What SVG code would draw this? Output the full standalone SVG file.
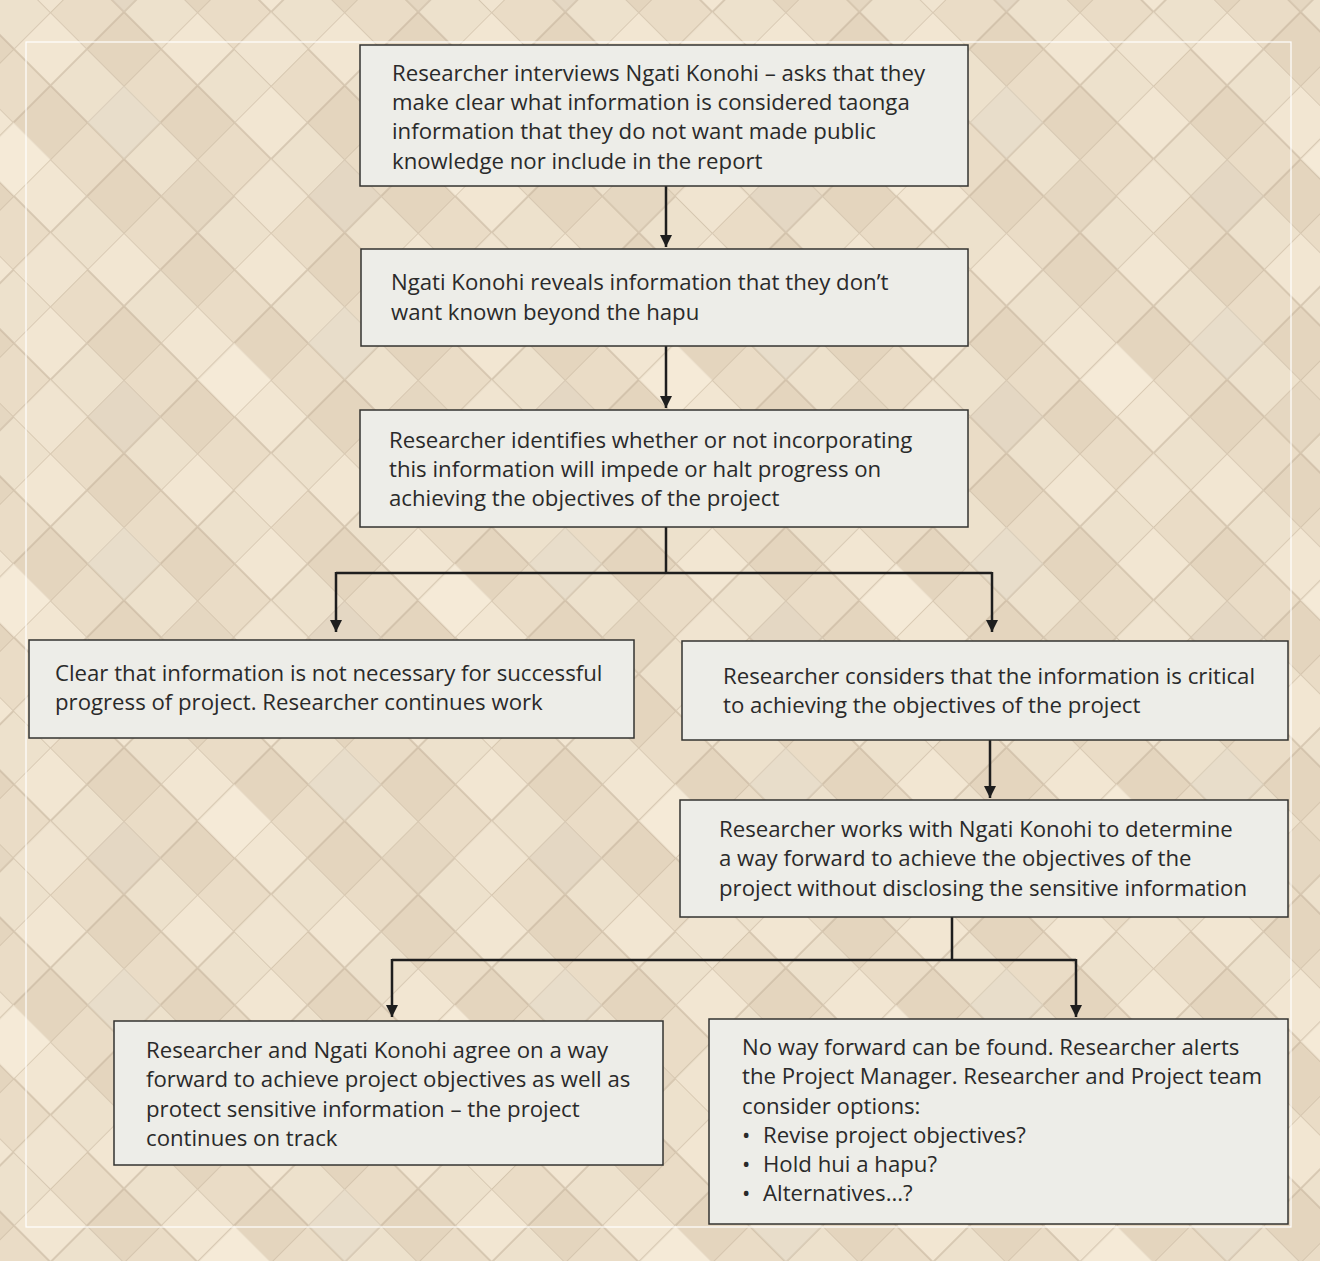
<svg xmlns="http://www.w3.org/2000/svg" width="1320" height="1261" viewBox="0 0 1320 1261">
<defs>
<pattern id="weave" width="104" height="104" patternUnits="userSpaceOnUse" patternTransform="rotate(45 660 630)">
<rect width="104" height="104" fill="#eadcc6"/>
<rect x="0" y="0" width="52" height="52" fill="#f2e6d2"/>
<rect x="52" y="52" width="52" height="52" fill="#e4d5be"/>
<rect x="52" y="0" width="52" height="52" fill="#ede1cc"/>
<path d="M0 0H104M0 52H104M0 0V104M52 0V104" stroke="#bfae96" stroke-width="2" fill="none" opacity="0.5"/>
</pattern>
<pattern id="weave2" width="312" height="312" patternUnits="userSpaceOnUse" patternTransform="rotate(45 660 630)">
<rect x="0" y="0" width="52" height="52" fill="#d8c8b0" opacity="0.5"/>
<rect x="156" y="104" width="52" height="52" fill="#faf0de" opacity="0.6"/>
<rect x="104" y="208" width="52" height="52" fill="#d6c7b3" opacity="0.5"/>
<rect x="260" y="156" width="52" height="52" fill="#f8eedc" opacity="0.6"/>
<rect x="208" y="0" width="52" height="52" fill="#ddd3c2" opacity="0.5"/>
<rect x="52" y="260" width="52" height="52" fill="#f8eedc" opacity="0.6"/>
</pattern>
<marker id="arr" viewBox="0 0 10 10" refX="10" refY="5" markerWidth="5" markerHeight="5" markerUnits="strokeWidth" orient="auto">
<path d="M0 0L10 5L0 10Z" fill="#1e1e1e"/>
</marker>
<style>
.box{fill:#edede8;stroke:#333330;stroke-width:1.5}
.t{font-family:"Open Sans","Noto Sans","Liberation Sans",sans-serif;font-size:22.2px;fill:#2a2a2a}
.c{fill:none;stroke:#1e1e1e;stroke-width:2.5}
</style>
</defs>
<rect width="1320" height="1261" fill="url(#weave)"/>
<rect width="1320" height="1261" fill="url(#weave2)"/>
<rect x="26" y="42" width="1265" height="1185" fill="none" stroke="#ffffff" stroke-width="1.2"/>
<g id="connectors">
<path class="c" d="M666 186V247" marker-end="url(#arr)"/>
<path class="c" d="M666 346V408" marker-end="url(#arr)"/>
<path class="c" d="M666 527V573M336 573H992M336 572V632" marker-end="url(#arr)"/>
<path class="c" d="M992 572V632" marker-end="url(#arr)"/>
<path class="c" d="M990 740V798" marker-end="url(#arr)"/>
<path class="c" d="M952 917V960M392 960H1076M392 959V1017" marker-end="url(#arr)"/>
<path class="c" d="M1076 959V1017" marker-end="url(#arr)"/>
</g>
<g id="n1">
<rect class="box" x="360" y="45" width="608" height="141"/>
<text class="t" x="392" y="81">Researcher interviews Ngati Konohi – asks that they</text>
<text class="t" x="392" y="110">make clear what information is considered taonga</text>
<text class="t" x="392" y="139">information that they do not want made public</text>
<text class="t" x="392" y="169">knowledge nor include in the report</text>
</g>
<g id="n2">
<rect class="box" x="361" y="249" width="607" height="97"/>
<text class="t" x="391" y="290">Ngati Konohi reveals information that they don’t</text>
<text class="t" x="391" y="320">want known beyond the hapu</text>
</g>
<g id="n3">
<rect class="box" x="360" y="410" width="608" height="117"/>
<text class="t" x="389" y="448">Researcher identifies whether or not incorporating</text>
<text class="t" x="389" y="477">this information will impede or halt progress on</text>
<text class="t" x="389" y="506">achieving the objectives of the project</text>
</g>
<g id="n4">
<rect class="box" x="29" y="640" width="605" height="98"/>
<text class="t" x="55" y="681">Clear that information is not necessary for successful</text>
<text class="t" x="55" y="710">progress of project. Researcher continues work</text>
</g>
<g id="n5">
<rect class="box" x="682" y="641" width="606" height="99"/>
<text class="t" x="723" y="684">Researcher considers that the information is critical</text>
<text class="t" x="723" y="713">to achieving the objectives of the project</text>
</g>
<g id="n6">
<rect class="box" x="680" y="800" width="608" height="117"/>
<text class="t" x="719" y="837">Researcher works with Ngati Konohi to determine</text>
<text class="t" x="719" y="866">a way forward to achieve the objectives of the</text>
<text class="t" x="719" y="896">project without disclosing the sensitive information</text>
</g>
<g id="n7">
<rect class="box" x="114" y="1021" width="549" height="144"/>
<text class="t" x="146" y="1058">Researcher and Ngati Konohi agree on a way</text>
<text class="t" x="146" y="1087">forward to achieve project objectives as well as</text>
<text class="t" x="146" y="1117">protect sensitive information – the project</text>
<text class="t" x="146" y="1146">continues on track</text>
</g>
<g id="n8">
<rect class="box" x="709" y="1019" width="579" height="205"/>
<text class="t" x="742" y="1055">No way forward can be found. Researcher alerts</text>
<text class="t" x="742" y="1084">the Project Manager. Researcher and Project team</text>
<text class="t" x="742" y="1114">consider options:</text>
<text class="t" x="742" y="1143">•</text><text class="t" x="763" y="1143">Revise project objectives?</text>
<text class="t" x="742" y="1172">•</text><text class="t" x="763" y="1172">Hold hui a hapu?</text>
<text class="t" x="742" y="1201">•</text><text class="t" x="763" y="1201">Alternatives...?</text>
</g>
</svg>
